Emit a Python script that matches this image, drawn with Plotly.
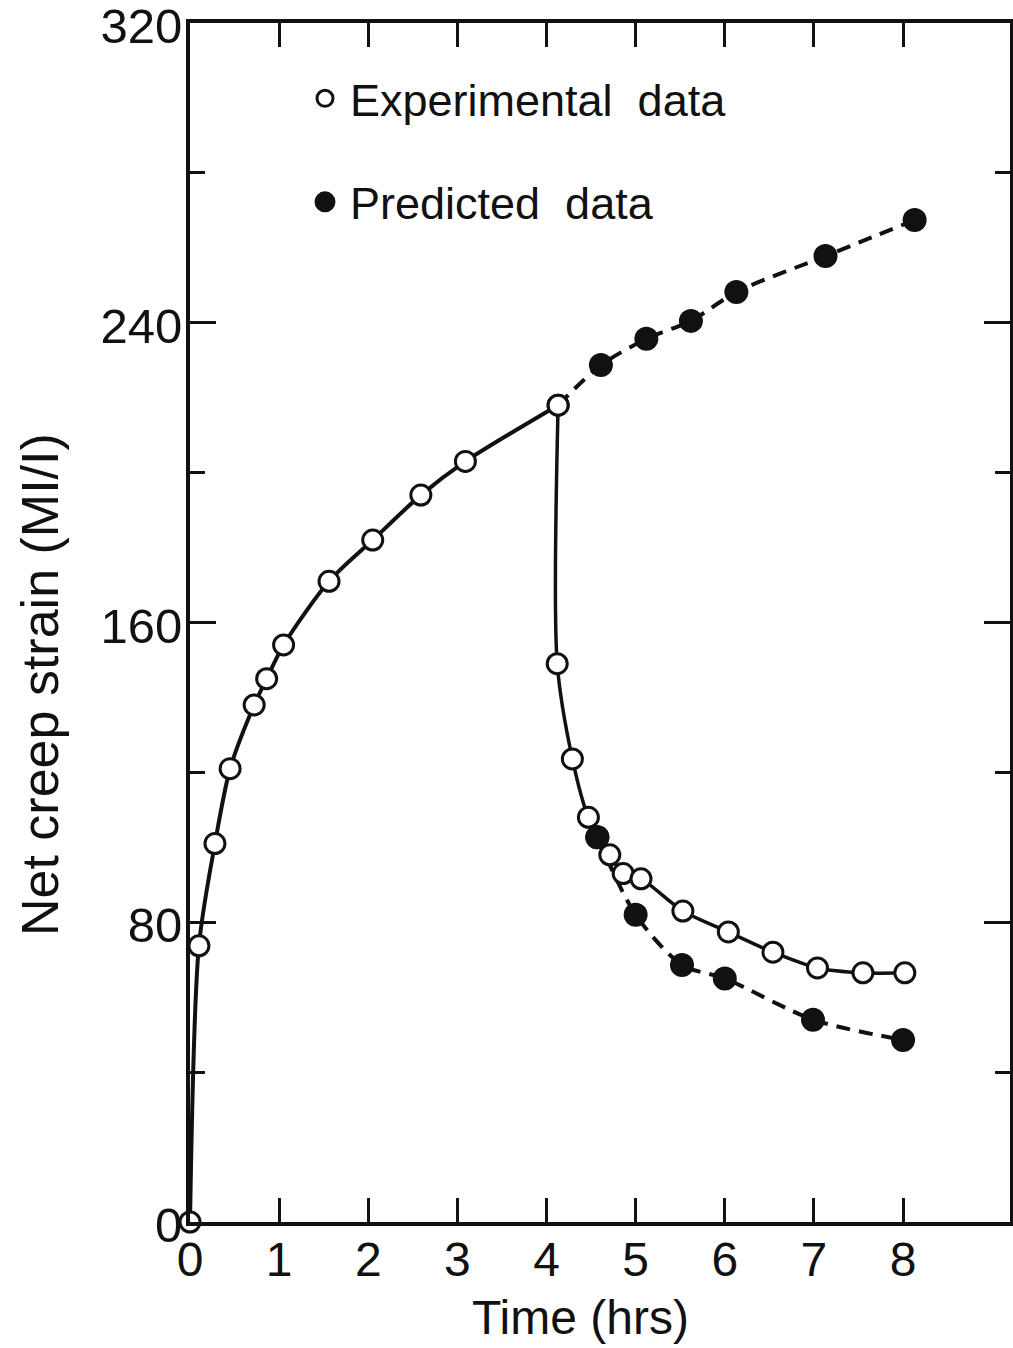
import plotly.graph_objects as go

# Experimental data – loading (rising) branch
exp_rise_t = [0.0, 0.10, 0.28, 0.45, 0.72, 0.86, 1.05, 1.56, 2.05, 2.59, 3.09, 4.13]
exp_rise_s = [0.0, 73.7, 101.0, 121.0, 138.0, 145.0, 154.0, 171.0, 182.0, 194.0, 203.0, 218.0]

# Experimental data – recovery (falling) branch
exp_fall_t = [4.13, 4.12, 4.29, 4.47, 4.71, 4.86, 5.06, 5.53, 6.04, 6.54, 7.04, 7.55, 8.02]
exp_fall_s = [218.0, 149.0, 123.6, 108.0, 98.0, 93.0, 91.6, 83.0, 77.4, 72.0, 67.8, 66.5, 66.5]

# Predicted data – continued loading (starts from last experimental point)
pred_rise_t = [4.13, 4.61, 5.12, 5.62, 6.13, 7.13, 8.13]
pred_rise_s = [218.0, 228.7, 235.7, 240.5, 248.2, 257.8, 267.4]

# Predicted data – recovery
pred_fall_t = [4.57, 5.00, 5.52, 6.00, 6.99, 8.00]
pred_fall_s = [102.7, 82.0, 68.6, 65.0, 54.0, 48.6]

x_ticks = [0, 1, 2, 3, 4, 5, 6, 7, 8]
y_ticks = [0, 80, 160, 240, 320]

FONT = "Liberation Sans, Arial, sans-serif"
BLACK = "#111111"

open_marker = dict(symbol="circle", size=20, color="white", opacity=1,
                   line=dict(color=BLACK, width=3))
filled_marker = dict(symbol="circle", size=24, color=BLACK, opacity=1,
                     line=dict(color=BLACK, width=0))

fig = go.Figure()

# dashed predicted curves (drawn first so markers sit on top)
fig.add_trace(go.Scatter(
    x=pred_rise_t, y=pred_rise_s, mode="lines+markers",
    line=dict(color=BLACK, width=4, dash="14px,9px", shape="spline", smoothing=0.8),
    marker=dict(symbol="circle", color=BLACK, opacity=1,
                size=[0] + [24] * (len(pred_rise_t) - 1), line=dict(width=0)),
    showlegend=False, cliponaxis=False))
fig.add_trace(go.Scatter(
    x=pred_fall_t, y=pred_fall_s, mode="lines+markers",
    line=dict(color=BLACK, width=4, dash="14px,9px", shape="spline", smoothing=0.8),
    marker=filled_marker, showlegend=False, cliponaxis=False))

# experimental curves
fig.add_trace(go.Scatter(
    x=exp_rise_t, y=exp_rise_s, mode="lines+markers",
    line=dict(color=BLACK, width=4, shape="spline", smoothing=0.8),
    marker=open_marker, showlegend=False, cliponaxis=False))
fig.add_trace(go.Scatter(
    x=exp_fall_t, y=exp_fall_s, mode="lines+markers",
    line=dict(color=BLACK, width=3.5, shape="spline", smoothing=0.8),
    marker=open_marker, showlegend=False, cliponaxis=False))

# the predicted point lying on the experimental curve is drawn on top
fig.add_trace(go.Scatter(
    x=pred_fall_t[:1], y=pred_fall_s[:1], mode="markers",
    marker=filled_marker, showlegend=False, cliponaxis=False))

# legend entries (markers only)
fig.add_trace(go.Scatter(x=[None], y=[None], mode="markers", name="Experimental\u00a0\u00a0data",
                         marker=dict(symbol="circle", size=16, color="white",
                                     line=dict(color=BLACK, width=3)),
                         legendgroup="a"))
fig.add_trace(go.Scatter(x=[None], y=[None], mode="markers", name="Predicted\u00a0\u00a0data",
                         marker=dict(symbol="circle", size=16, color=BLACK,
                                     line=dict(color=BLACK, width=5)),
                         legendgroup="b"))

axis_common = dict(
    showline=True, linecolor=BLACK, linewidth=4, mirror="ticks",
    ticks="inside", tickcolor=BLACK, tickwidth=3,
    showgrid=False, zeroline=False, ticklabeloverflow="allow",
)

fig.update_xaxes(
    **axis_common, range=[0, 9.2], tickvals=x_ticks, ticktext=[str(v) for v in x_ticks],
    ticklen=24, tickfont=dict(family=FONT, size=48, color=BLACK), ticklabelstandoff=-8,
)
fig.update_yaxes(
    **axis_common, range=[0, 320], tickvals=y_ticks, ticktext=[str(v) for v in y_ticks],
    ticklen=26, tickfont=dict(family=FONT, size=49, color=BLACK), ticklabelstandoff=-6,
    ticklabelshift=3,
    minor=dict(dtick=40, tick0=0, ticks="inside", ticklen=15, tickwidth=3, tickcolor=BLACK, showgrid=False),
)

PLOT_L, PLOT_T, PLOT_W, PLOT_H = 190, 23, 820, 1199

fig.update_layout(
    width=1013, height=1348,
    margin=dict(l=PLOT_L, r=1013 - PLOT_L - PLOT_W, t=PLOT_T, b=1348 - PLOT_T - PLOT_H, autoexpand=False),
    paper_bgcolor="white", plot_bgcolor="white",
    font=dict(family=FONT, color=BLACK),
    legend=dict(x=(300 - PLOT_L) / PLOT_W, y=0.967, xanchor="left", yanchor="top",
                font=dict(family=FONT, size=45, color=BLACK),
                bgcolor="rgba(0,0,0,0)", borderwidth=0,
                traceorder="grouped", tracegroupgap=42, itemwidth=40),
    annotations=[
        dict(text="Time (hrs)", xref="paper", yref="paper",
             x=(580 - PLOT_L) / PLOT_W, y=-(1317 - PLOT_T - PLOT_H) / PLOT_H,
             xanchor="center", yanchor="middle", showarrow=False,
             font=dict(family=FONT, size=48, color=BLACK)),
        dict(text="Net creep strain (MI/I)", xref="paper", yref="paper",
             x=(40 - PLOT_L) / PLOT_W, y=1 - (685 - PLOT_T) / PLOT_H,
             xanchor="center", yanchor="middle", textangle=-90, showarrow=False,
             font=dict(family=FONT, size=52, color=BLACK)),
    ],
)

fig.write_html("out.html", config={"displayModeBar": False},
               post_script="document.body.style.margin='0';")
